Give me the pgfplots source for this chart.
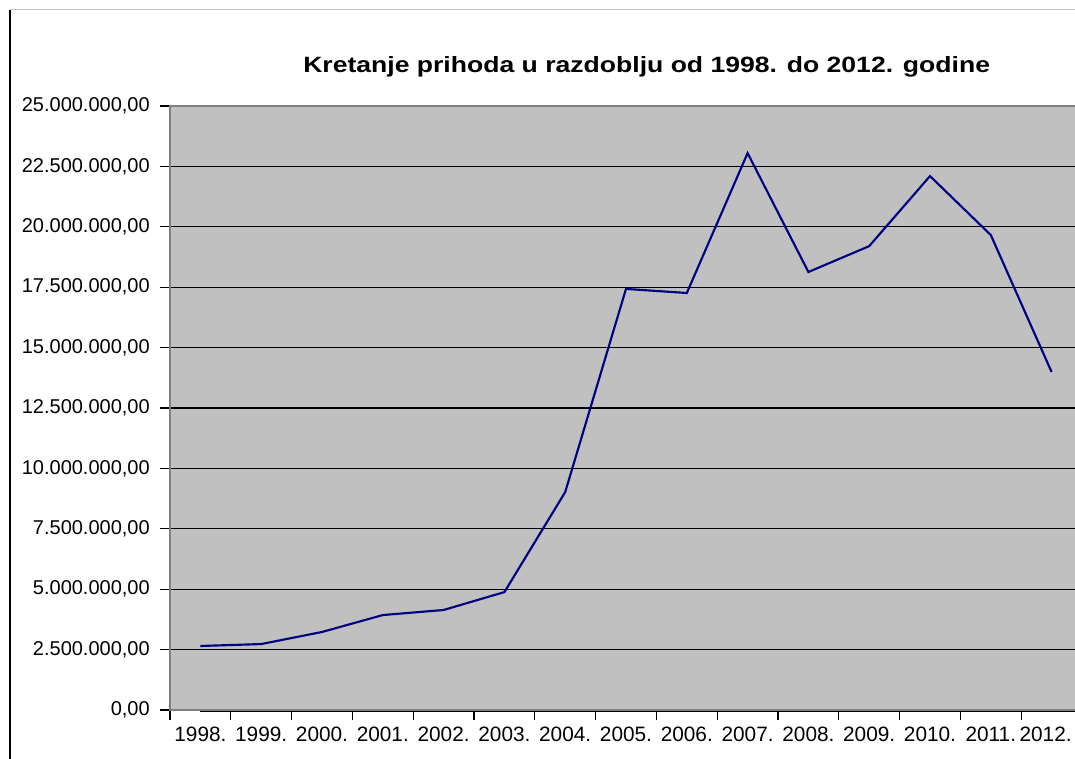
\documentclass[border=0pt]{standalone}
\usepackage{pgfplots}
\pgfplotsset{compat=1.18}
\usepackage{fontspec}
\setmainfont{Liberation Sans}
\definecolor{plotbg}{RGB}{192,192,192}
\definecolor{frameg}{RGB}{128,128,128}
\definecolor{navyl}{RGB}{0,0,128}
\begin{document}
\begin{tikzpicture}
\path[use as bounding box] (0,0) rectangle (806.25pt,-568.5pt);
\clip (0,0) rectangle (806.25pt,-568.5pt);
\fill[white] (0,0) rectangle (806.25pt,-568.5pt);
\draw[black, line width=0.8pt] (7.5pt,-7.5pt) -- (7.5pt,-580pt);
\draw[black!22, line width=0.8pt] (7.5pt,-7pt) -- (810pt,-7pt);
\begin{axis}[
  at={(127.5pt,-532.5pt)}, anchor=south west,
  scale only axis, width=684pt, height=453pt,
  xmin=-0.5, xmax=14.5, ymin=0, ymax=25000000,
  scaled y ticks=false,
  axis background/.style={fill=plotbg},
  axis line style={draw=frameg, line width=1.6pt},
  tick align=outside, major tick length=7.5pt,
  xtick pos=bottom, ytick pos=left,
  tick style={draw=black, line width=0.8pt},
  xtick={-0.5,0.5,...,14.5},
  xticklabels={1998.,1999.,2000.,2001.,2002.,2003.,2004.,2005.,2006.,2007.,2008.,2009.,2010.,2011.,{\hspace*{-9pt}2012.},{}},
  xticklabel style={xshift=22.8pt, font=\fontsize{15.6}{18}\selectfont, inner sep=0pt, yshift=-5pt},
  ytick={0,2500000,5000000,7500000,10000000,12500000,15000000,17500000,20000000,22500000,25000000},
  yticklabels={{0,00},{2.500.000,00},{5.000.000,00},{7.500.000,00},{10.000.000,00},{12.500.000,00},{15.000.000,00},{17.500.000,00},{20.000.000,00},{22.500.000,00},{25.000.000,00}},
  yticklabel style={font=\fontsize{15}{18}\selectfont, inner sep=0pt, xshift=-7.5pt},
  ymajorgrids, grid style={black, line width=0.8pt},
  clip=false,
]
\addplot[navyl, line width=1.6pt] coordinates {
(0,2650000) (1,2730000) (2,3230000) (3,3930000) (4,4140000) (5,4880000)
(6,9020000) (7,17430000) (8,17260000) (9,23050000) (10,18130000)
(11,19200000) (12,22100000) (13,19660000) (14,13990000)
};
\draw[black, line width=0.8pt] (rel axis cs:0,0) ++(0,-1pt) -- ([yshift=-1pt]rel axis cs:1,0);
\end{axis}
\node[anchor=base, inner sep=0pt] at (485pt,-54pt) {\scalebox{1.2}[1]{\fontsize{16.6}{19}\selectfont\bfseries Kretanje prihoda u razdoblju od 1998. do 2012. godine}};
\end{tikzpicture}
\end{document}
